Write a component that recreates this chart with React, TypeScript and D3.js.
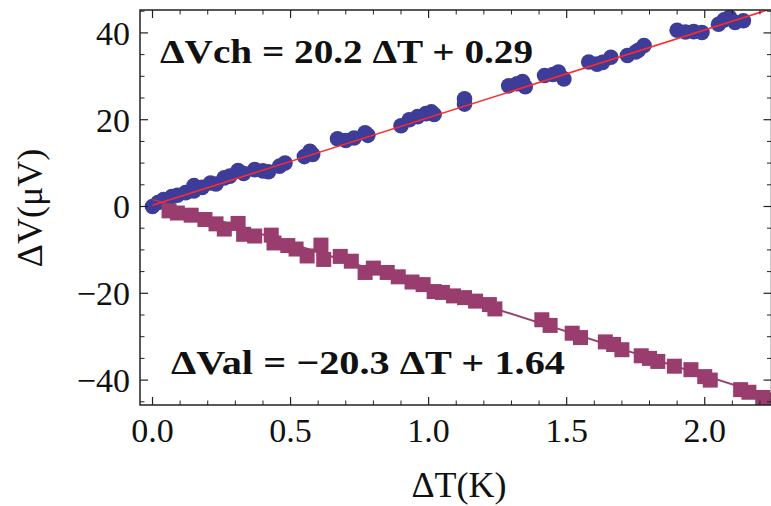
import React from "react";
import * as d3 from "d3";

// Blue circles: ΔVch data (ΔT in K, ΔV in μV)
const chT = [0.00,0.02,0.04,0.07,0.09,0.12,0.15,0.15,0.18,0.21,0.23,0.26,0.28,0.31,0.33,0.37,0.40,0.42,0.46,0.48,0.55,0.57,0.58,0.67,0.70,0.73,0.77,0.78,0.90,0.93,0.96,0.99,1.01,1.02,1.13,1.13,1.29,1.32,1.34,1.35,1.42,1.45,1.47,1.49,1.58,1.61,1.63,1.66,1.72,1.75,1.76,1.78,1.90,1.93,1.96,1.99,2.05,2.07,2.09,2.11,2.14];
const chV = [0.0,0.9,1.6,2.3,2.6,3.2,3.6,4.8,4.4,5.4,5.2,6.6,7.0,8.3,7.6,8.5,8.2,8.0,9.3,10.0,11.5,12.7,12.0,15.6,15.2,15.8,17.0,16.4,18.6,20.0,20.7,21.4,21.8,21.2,24.8,23.6,27.8,28.3,28.8,27.6,30.2,30.4,31.0,29.4,33.3,32.8,33.2,34.4,34.8,35.6,36.0,37.1,40.6,40.2,40.3,40.1,42.0,43.0,43.6,42.4,42.8];

// Purple squares: ΔVal data
const alT = [0.06,0.09,0.14,0.19,0.23,0.26,0.31,0.33,0.37,0.43,0.44,0.49,0.52,0.56,0.61,0.62,0.68,0.72,0.77,0.80,0.85,0.89,0.94,0.98,1.02,1.05,1.09,1.13,1.17,1.22,1.24,1.41,1.44,1.52,1.55,1.64,1.67,1.70,1.77,1.80,1.83,1.89,1.95,2.00,2.02,2.13,2.16,2.21,2.24];
const alV = [-1.0,-1.5,-2.0,-3.0,-4.0,-5.2,-3.9,-6.4,-6.8,-6.6,-8.4,-9.0,-9.8,-11.4,-8.9,-12.2,-11.5,-12.6,-15.2,-14.2,-15.2,-16.2,-17.4,-18.0,-19.6,-19.8,-20.6,-21.0,-21.8,-22.6,-23.6,-26.1,-27.4,-29.2,-30.2,-31.2,-31.8,-33.0,-34.4,-35.0,-35.7,-36.8,-37.6,-39.2,-40.0,-42.2,-42.8,-44.0,-44.6];

// Linear fits
const chFit = [20.2, 0.29];
const alFit = [-20.3, 1.64];

const xMajor = [0, 0.5, 1.0, 1.5, 2.0];
const xMajorLabels = ["0.0", "0.5", "1.0", "1.5", "2.0"];
const yMajor = [-40, -20, 0, 20, 40];
const yMajorLabels = ["\u221240", "\u221220", "0", "20", "40"];

const W = 771, H = 506;
const L = 140, R = 771.5, T = 10, B = 405;

export default function App() {
  const x = d3.scaleLinear().domain([-0.0453, 2.2418]).range([L, R]);
  const y = d3.scaleLinear().domain([-45.74, 45.28]).range([B, T]);

  const xMinor = d3.range(0, 23).map(i => i / 10).filter(v => Math.abs(v * 2 - Math.round(v * 2)) > 1e-6);
  const yMinor = d3.range(-45, 46, 5).filter(v => v % 20 !== 0);

  const fitLine = (f: number[]) =>
    d3.line<number>().x(t => x(t)).y(t => y(f[0] * t + f[1]))([0, 2.3]) as string;

  const axisColor = "#222";
  const font = "'Liberation Serif', 'Times New Roman', serif";
  const sq = 15;

  return (
    <svg width={W} height={H} style={{ position: "absolute", left: 0, top: 0, background: "#fff" }}>
      <defs>
        <clipPath id="plot">
          <rect x={L} y={T} width={R - L} height={B - T} />
        </clipPath>
      </defs>
      <rect x={0} y={0} width={W} height={H} fill="#fff" />
      <g clipPath="url(#plot)">
        {chT.map((t, i) => (
          <circle key={"c" + i} cx={x(t)} cy={y(chV[i])} r={7.8} fill="#3d3d99" />
        ))}
        {alT.map((t, i) => (
          <rect key={"s" + i} x={x(t) - sq / 2} y={y(alV[i]) - sq / 2} width={sq} height={sq} fill="#993d6e" />
        ))}
        <path d={fitLine(alFit)} stroke="#993d6e" strokeWidth={2} fill="none" />
        <path d={fitLine(chFit)} stroke="#ff2a2a" strokeWidth={1.5} fill="none" />
      </g>
      {/* frame */}
      <rect x={L} y={T} width={R - L} height={B - T} fill="none" stroke={axisColor} strokeWidth={1.5} />
      {/* x ticks bottom & top */}
      {xMajor.map((v, i) => (
        <g key={"xm" + i}>
          <line x1={x(v)} x2={x(v)} y1={B} y2={B - 8} stroke={axisColor} strokeWidth={1.2} />
          <line x1={x(v)} x2={x(v)} y1={T} y2={T + 8} stroke={axisColor} strokeWidth={1.2} />
          <text x={x(v)} y={442} textAnchor="middle" fontFamily={font} fontSize={34} fill="#111">{xMajorLabels[i]}</text>
        </g>
      ))}
      {xMinor.map((v, i) => (
        <g key={"xn" + i}>
          <line x1={x(v)} x2={x(v)} y1={B} y2={B - 4.5} stroke={axisColor} strokeWidth={1} />
          <line x1={x(v)} x2={x(v)} y1={T} y2={T + 4.5} stroke={axisColor} strokeWidth={1} />
        </g>
      ))}
      {yMajor.map((v, i) => (
        <g key={"ym" + i}>
          <line x1={L} x2={L + 8} y1={y(v)} y2={y(v)} stroke={axisColor} strokeWidth={1.2} />
          <line x1={R} x2={R - 8} y1={y(v)} y2={y(v)} stroke={axisColor} strokeWidth={1.2} />
          <text x={130} y={y(v)} dy="0.35em" textAnchor="end" fontFamily={font} fontSize={34} fill="#111">{yMajorLabels[i]}</text>
        </g>
      ))}
      {yMinor.map((v, i) => (
        <g key={"yn" + i}>
          <line x1={L} x2={L + 4.5} y1={y(v)} y2={y(v)} stroke={axisColor} strokeWidth={1} />
          <line x1={R} x2={R - 4.5} y1={y(v)} y2={y(v)} stroke={axisColor} strokeWidth={1} />
        </g>
      ))}
      {/* axis labels */}
      <text x={459} y={497} textAnchor="middle" fontFamily={font} fontSize={36} fill="#111">ΔT(K)</text>
      <text transform="translate(42,208) rotate(-90)" textAnchor="middle" fontFamily={font} fontSize={36} fill="#111">ΔV(μV)</text>
      {/* equations */}
      <text x={160} y={63} fontFamily={font} fontSize={34} fontWeight="bold" fill="#111" textLength={373} lengthAdjust="spacingAndGlyphs">ΔVch = 20.2 ΔT + 0.29</text>
      <text x={171} y={373.5} fontFamily={font} fontSize={34} fontWeight="bold" fill="#111" textLength={394} lengthAdjust="spacingAndGlyphs">ΔVal = −20.3 ΔT + 1.64</text>
    </svg>
  );
}
